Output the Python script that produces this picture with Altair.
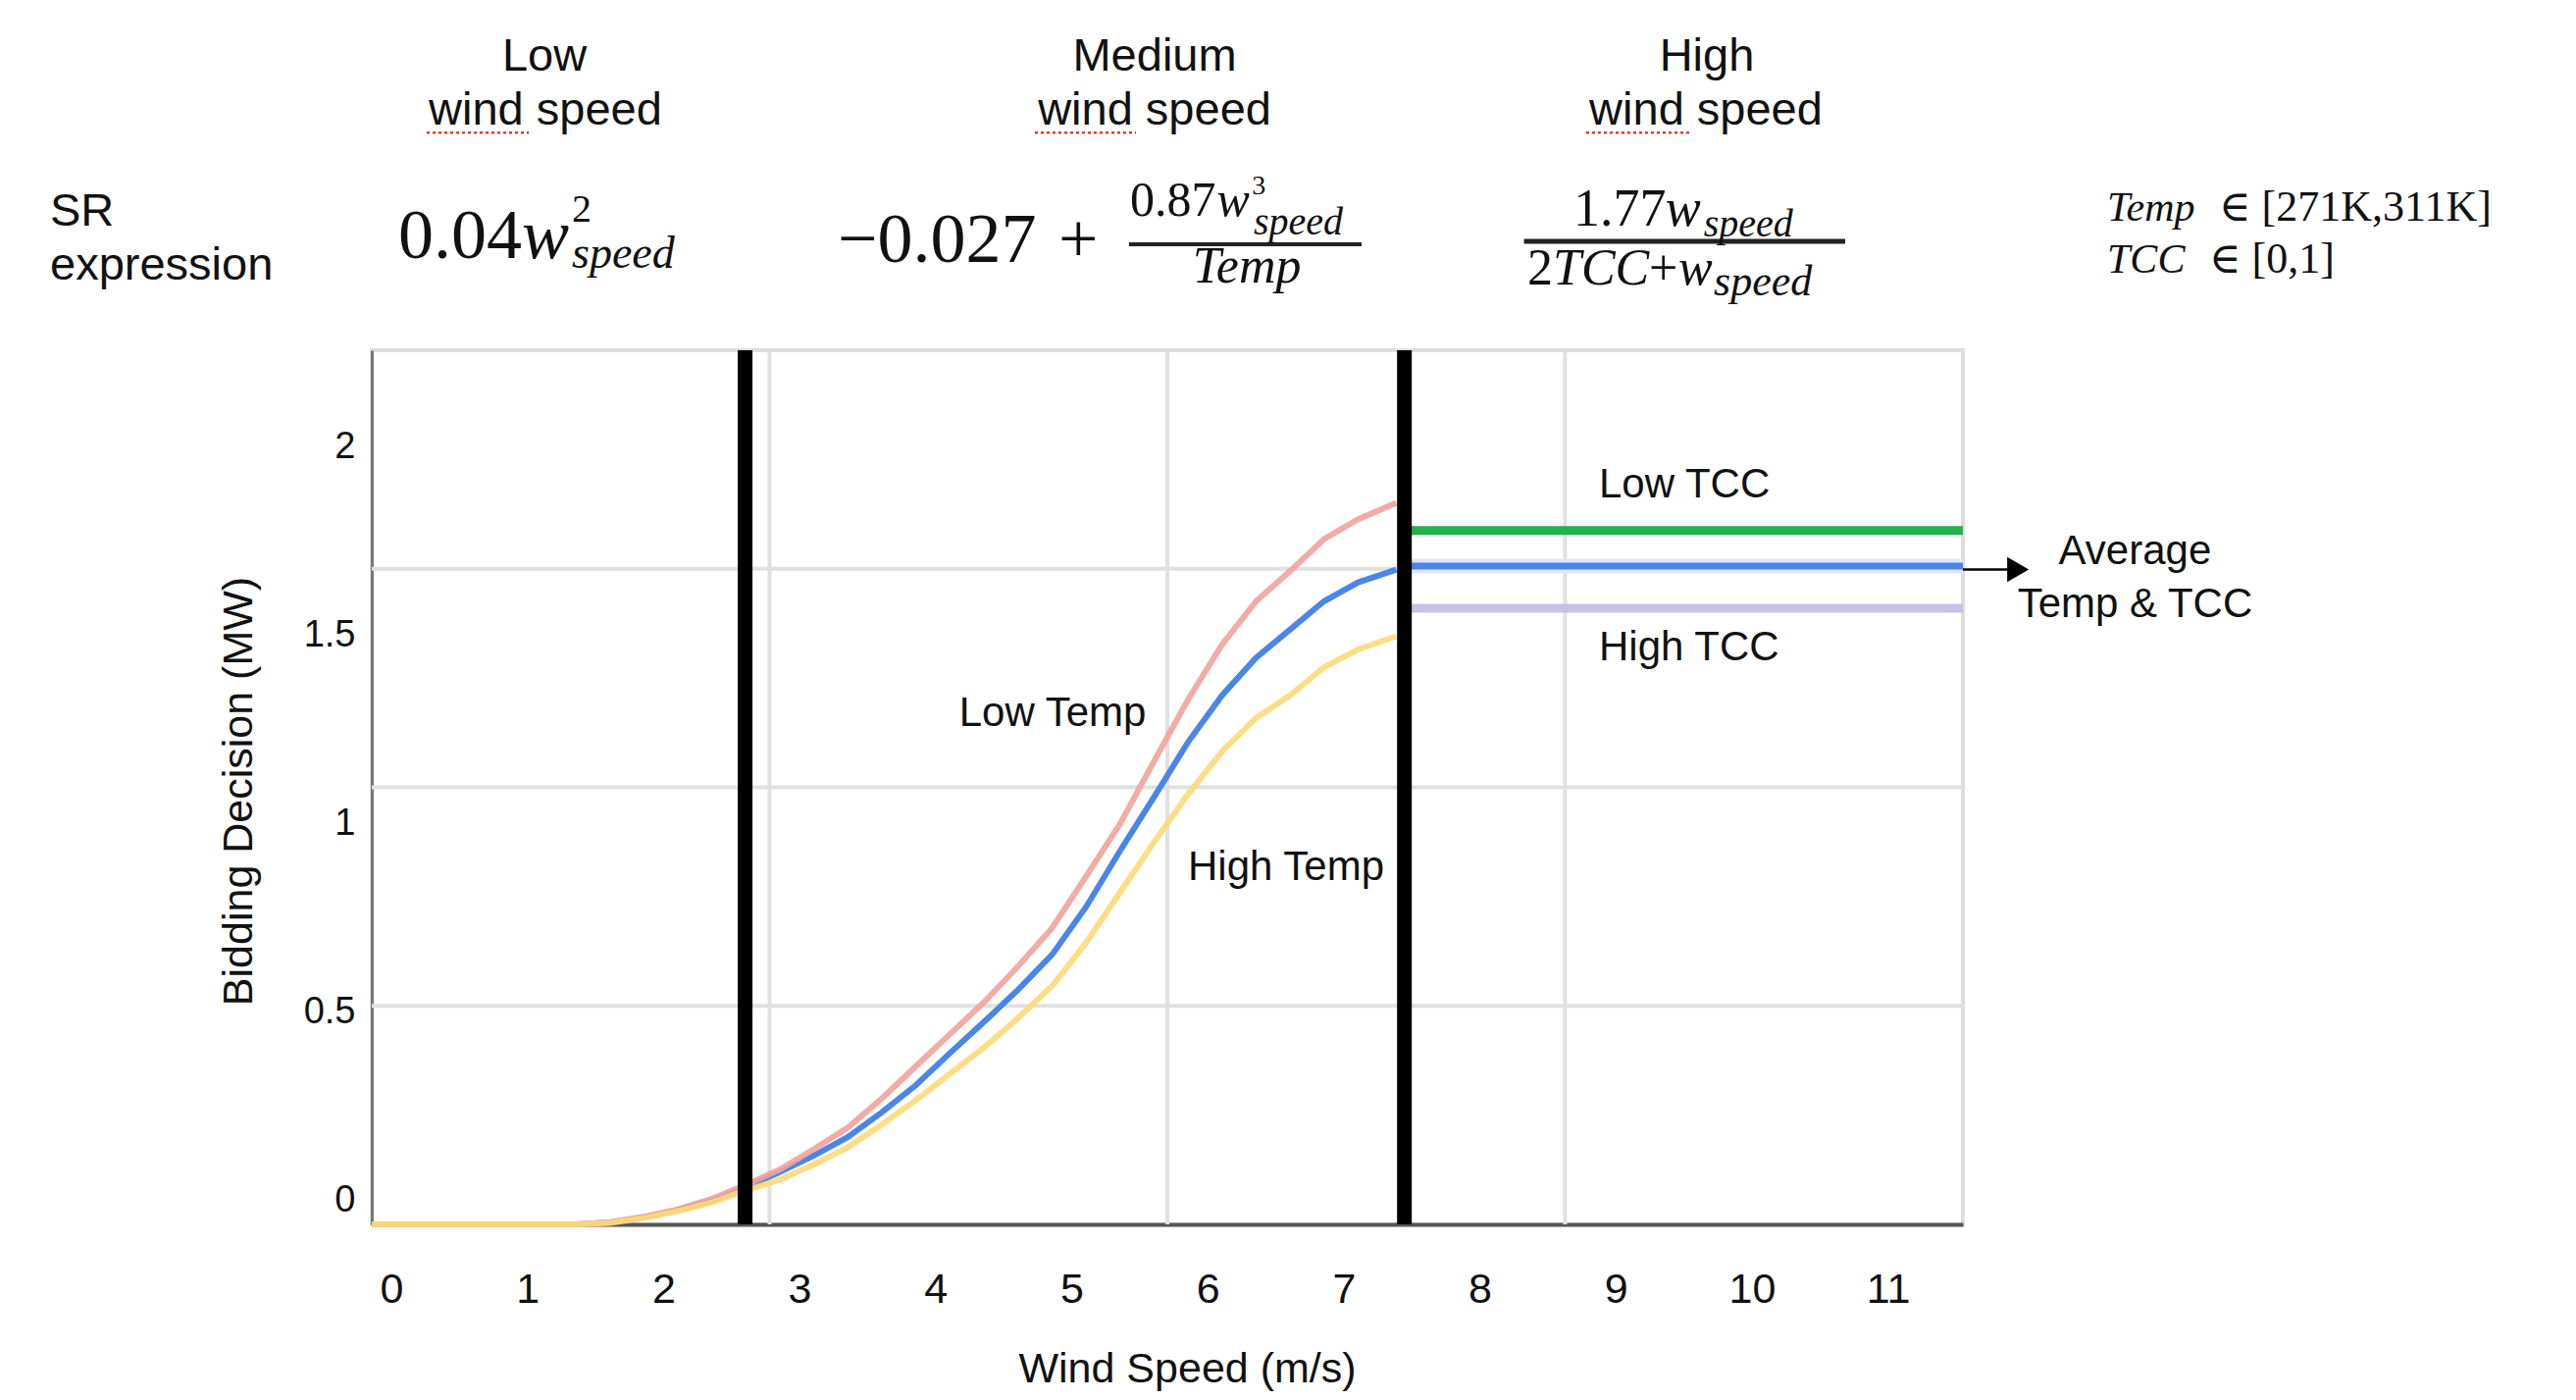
import altair as alt
import pandas as pd

# ---------------- data ----------------
wind = [0, 1.5, 1.75, 2.0, 2.25, 2.5, 2.75, 3.0, 3.25, 3.5, 3.75, 4.0, 4.25,
        4.5, 4.75, 5.0, 5.25, 5.5, 5.75, 6.0, 6.25, 6.5, 6.75, 7.0, 7.25, 7.53]
low_temp = [0, 0, 0.005, 0.02, 0.04, 0.068, 0.105, 0.146, 0.2, 0.257, 0.335, 0.42, 0.505,
            0.59, 0.685, 0.787, 0.924, 1.064, 1.23, 1.394, 1.54, 1.655, 1.735, 1.82, 1.873, 1.916]
avg_temp = [0, 0, 0.005, 0.019, 0.038, 0.063, 0.098, 0.139, 0.183, 0.232, 0.298, 0.37, 0.455,
            0.538, 0.623, 0.716, 0.843, 0.992, 1.135, 1.281, 1.405, 1.505, 1.58, 1.655, 1.705, 1.739]
high_temp = [0, 0, 0.004, 0.017, 0.035, 0.058, 0.09, 0.119, 0.159, 0.205, 0.265, 0.33, 0.40,
             0.47, 0.548, 0.633, 0.748, 0.882, 1.015, 1.143, 1.256, 1.345, 1.405, 1.48, 1.527, 1.562]

x_ticks = list(range(12))
y_ticks = [0, 0.5, 1, 1.5, 2]
x_max = 11.695
y_max = 2.3215
grid_x = [2.924, 5.848, 8.771]
grid_y = [0.5804, 1.1608, 1.7411]
regime_bounds = [2.744, 7.59]

high_wind_start = 7.643
high_wind_end = 11.695
tcc_low = 1.843
tcc_avg = 1.748
tcc_high = 1.636

# annotation text (label, x, y in data units, font size)
headers = [["Low", 1.269, 3.064, 47], ["wind speed", 1.276, 2.921, 47],
           ["Medium", 5.754, 3.064, 47], ["wind speed", 5.754, 2.921, 47],
           ["High", 9.813, 3.064, 47], ["wind speed", 9.806, 2.921, 47]]
side_labels = [["SR", -2.365, 2.652, 47], ["expression", -2.365, 2.509, 47],
               ["Low TCC", 9.02, 1.931, 42], ["High TCC", 9.02, 1.498, 42]]
center_labels = [["Low Temp", 5.004, 1.324, 42], ["High Temp", 6.72, 0.915, 42],
                 ["Average", 12.96, 1.754, 42], ["Temp & TCC", 12.96, 1.613, 42]]
squiggles = [[0.404, 1.154, 2.899], [4.874, 5.617, 2.899], [8.926, 9.691, 2.899]]

math_upright = [["0.04", 0.195, 2.566, 72], ["2", 1.471, 2.662, 40],
                ["\u22120.027", 3.425, 2.556, 72], ["+", 5.047, 2.556, 72],
                ["0.87", 5.574, 2.678, 50], ["3", 6.47, 2.735, 28],
                ["1.77", 8.833, 2.652, 54],
                ["2", 8.494, 2.496, 52], ["+", 9.388, 2.496, 52],
                ["\u2208 [271K,311K]", 13.577, 2.665, 44],
                ["\u2208 [0,1]", 13.505, 2.527, 44]]
math_italic = [["w", 1.103, 2.566, 72], ["speed", 1.471, 2.54, 46],
               ["w", 6.212, 2.678, 50], ["speed", 6.482, 2.628, 40],
               ["w", 9.509, 2.652, 54], ["speed", 9.79, 2.625, 40],
               ["TCC", 8.681, 2.496, 52], ["w", 9.604, 2.496, 52], ["speed", 9.864, 2.468, 44],
               ["Temp", 12.755, 2.665, 42], ["TCC", 12.755, 2.527, 42]]
math_italic_center = [["Temp", 6.432, 2.501, 52]]
fraction_bars = [[5.566, 7.275, 2.603, 4], [8.469, 10.83, 2.611, 5]]
arrow_line = [[11.695, 12.03, 1.739]]
arrow_head = [[12.10, 1.739]]

SANS = "Liberation Sans"
SERIF = "Liberation Serif, DejaVu Serif"
INK = "#111111"

XS = alt.Scale(domain=[0, x_max], nice=False, zero=False)
YS = alt.Scale(domain=[0, y_max], nice=False, zero=False)

x_axis = alt.Axis(values=x_ticks, title="Wind Speed (m/s)", labelOffset=20, labelPadding=45,
                  ticks=False, tickSize=0, grid=False, domainColor="#555555", domainWidth=4,
                  labelFont=SANS, labelFontSize=43, labelColor=INK, labelFlush=False,
                  labelOverlap=False, titleFont=SANS, titleFontSize=43, titleFontWeight="normal",
                  titleColor=INK, titleX=831, titleY=160, titleBaseline="alphabetic")
y_axis = alt.Axis(values=y_ticks, format="~g", title="Bidding Decision (MW)", labelOffset=-25,
                  labelPadding=17, ticks=False, tickSize=0, grid=False, domainColor="#777777",
                  domainWidth=3, labelFont=SANS, labelFontSize=38, labelColor=INK,
                  labelFlush=False, labelOverlap=False, titleFont=SANS, titleFontSize=43,
                  titleFontWeight="normal", titleColor=INK, titleX=-123, titleY=449,
                  titleBaseline="alphabetic")


def X(field):
    return alt.X(field, type="quantitative", scale=XS, axis=x_axis)


def Y(field):
    return alt.Y(field, type="quantitative", scale=YS, axis=y_axis)


# ---------------- layers ----------------
curves = pd.DataFrame({"wind": wind, "low": low_temp, "avg": avg_temp, "high": high_temp})
line_low = alt.Chart(curves).mark_line(color="#F2A29B", strokeWidth=6, opacity=0.9).encode(
    x=X("wind"), y=Y("low"))
line_high = alt.Chart(curves).mark_line(color="#FDD978", strokeWidth=6, opacity=0.9).encode(
    x=X("wind"), y=Y("high"))
line_avg = alt.Chart(curves).mark_line(color="#4A86E8", strokeWidth=6).encode(x=X("wind"), y=Y("avg"))

grid_v = alt.Chart(pd.DataFrame({"g": grid_x})).mark_rule(color="#e0e0e0", strokeWidth=4).encode(x=X("g"))
grid_h = alt.Chart(pd.DataFrame({"g": grid_y})).mark_rule(color="#e0e0e0", strokeWidth=4).encode(y=Y("g"))

flat = pd.DataFrame({"x0": [high_wind_start], "x1": [high_wind_end],
                     "low": [tcc_low], "avg": [tcc_avg], "high": [tcc_high]})
flat_low = alt.Chart(flat).mark_rule(color="#22B14C", strokeWidth=9).encode(x=X("x0"), x2="x1", y=Y("low"))
flat_avg_halo = alt.Chart(flat).mark_rule(color="#DCE7FB", strokeWidth=15).encode(x=X("x0"), x2="x1", y=Y("avg"))
flat_avg = alt.Chart(flat).mark_rule(color="#4A86E8", strokeWidth=7).encode(x=X("x0"), x2="x1", y=Y("avg"))
flat_high = alt.Chart(flat).mark_rule(color="#C8BFE5", strokeWidth=9).encode(x=X("x0"), x2="x1", y=Y("high"))

bounds = alt.Chart(pd.DataFrame({"b": regime_bounds})).mark_rule(color="black", strokeWidth=15).encode(x=X("b"))

arrow_l = alt.Chart(pd.DataFrame(arrow_line, columns=["x0", "x1", "y"])).mark_rule(
    color="black", strokeWidth=2.5).encode(x=X("x0"), x2="x1", y=Y("y"))
arrow_h = alt.Chart(pd.DataFrame(arrow_head, columns=["x", "y"])).mark_point(
    shape="triangle-right", filled=True, size=650, color="black", opacity=1).encode(x=X("x"), y=Y("y"))

bars = alt.Chart(pd.DataFrame(fraction_bars, columns=["x0", "x1", "y", "w"])).mark_rule(color="#222222").encode(
    x=X("x0"), x2="x1", y=Y("y"), strokeWidth=alt.StrokeWidth("w:Q", scale=None, legend=None))

squig = alt.Chart(pd.DataFrame(squiggles, columns=["x0", "x1", "y"])).mark_rule(
    color="#E53935", strokeWidth=2.5, strokeDash=[3, 3]).encode(x=X("x0"), x2="x1", y=Y("y"))


def text_layer(rows, font, style="normal", align="left"):
    df = pd.DataFrame(rows, columns=["label", "x", "y", "size"])
    return alt.Chart(df).mark_text(font=font, fontStyle=style, align=align,
                                   baseline="alphabetic", color=INK).encode(
        x=X("x"), y=Y("y"), text="label:N",
        size=alt.Size("size:Q", scale=None, legend=None))


texts = [
    text_layer(headers, SANS, align="center"),
    text_layer(side_labels, SANS, align="left"),
    text_layer(center_labels, SANS, align="center"),
    text_layer(math_upright, SERIF, align="left"),
    text_layer(math_italic, SERIF, style="italic", align="left"),
    text_layer(math_italic_center, SERIF, style="italic", align="center"),
]

chart = alt.layer(
    grid_v, grid_h, line_avg, line_low, line_high,
    flat_low, flat_avg_halo, flat_avg, flat_high, bounds,
    arrow_l, arrow_h, bars, squig, *texts
).properties(
    width=1622, height=891,
    padding={"left": 371, "top": 349, "right": 600, "bottom": 170},
    autosize="none", background="white"
).configure_view(stroke="#dddddd", strokeWidth=4)

chart.save("out.html", embed_options={"renderer": "svg", "actions": False})
